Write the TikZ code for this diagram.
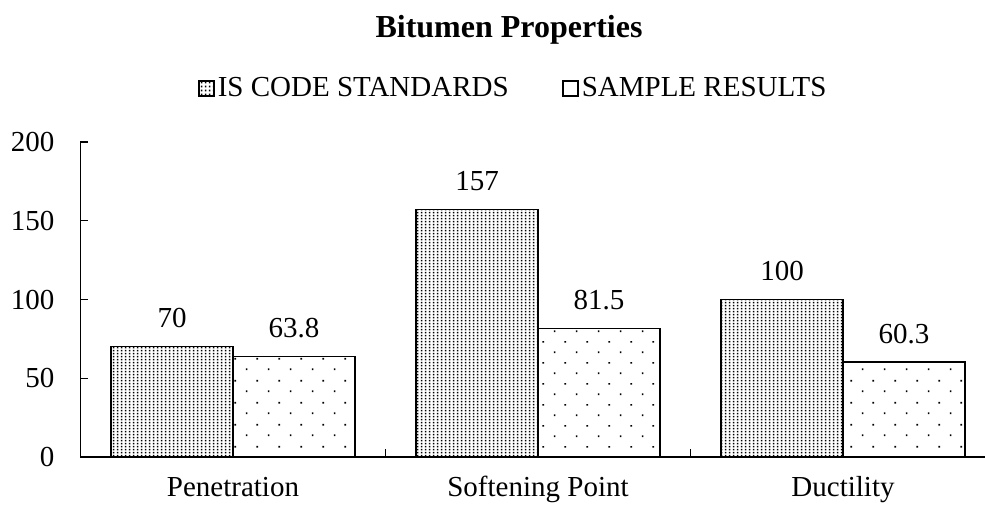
\documentclass[tikz,border=0pt]{standalone}
\usepackage{fontspec}
\setmainfont{Liberation Serif}
\usetikzlibrary{positioning,patterns.meta}
\definecolor{mInk}{HTML}{000000}

% dense and sparse dot fills for the two series
\tikzdeclarepattern{
  name=finedots,
  type=uncolored,
  bottom left={(0pt,0pt)},
  top right={(4pt,3.4pt)},
  tile size={(4pt,3.4pt)},
  code={\fill (1.1pt,0.75pt) rectangle (2.9pt,2.55pt);}
}
\tikzdeclarepattern{
  name=sparsedots,
  type=uncolored,
  bottom left={(0pt,0pt)},
  top right={(22pt,21.4pt)},
  tile size={(22pt,21.4pt)},
  code={\fill (4pt,4pt) rectangle (5.7pt,5.7pt);
        \fill (15pt,14.7pt) rectangle (16.7pt,16.4pt);}
}

\tikzset{
  bar/.style={draw=mInk, line width=1.3pt, pattern color=mInk},
  axis/.style={draw=mInk, line width=1.3pt},
  legbox/.style={draw=mInk, line width=1.2pt, minimum size=15pt, inner sep=0pt, pattern color=mInk},
}

\begin{document}
\begin{tikzpicture}[x=1pt, y=1pt, font=\fontsize{29}{34}\selectfont]
\def\ys{1.575}
\useasboundingbox[fill=white] (-80.5,-47) rectangle (904.5,457);
% title and legend
\node[font=\bfseries\fontsize{32}{38}\selectfont, anchor=base] (title) at (428.5,419) {Bitumen Properties};
\node[legbox, pattern=finedots] (legis) at (126,368.5) {};
\node[anchor=base west, inner sep=0pt] (legistxt) at ([xshift=3pt]legis.south east) {IS CODE STANDARDS};
\node[legbox] (legsm) at (490,368.5) {};
\node[anchor=base west, inner sep=0pt] (legsmtxt) at ([xshift=3pt]legsm.south east) {SAMPLE RESULTS};
% bars, values and categories
\foreach \i/\cat/\isv/\smv in {0/Penetration/70/63.8, 1/Softening Point/157/81.5, 2/Ductility/100/60.3}{
  \pgfmathsetmacro{\c}{152.5+305*\i}
  \draw[bar, pattern=finedots] ({\c-122},0) rectangle (\c,{\isv*\ys});
  \draw[bar, pattern=sparsedots] (\c,0) rectangle ({\c+122},{\smv*\ys});
  \node[anchor=base] (isval\i) at ({\c-61},{\isv*\ys+19}) {\isv};
  \node[anchor=base] (smval\i) at ({\c+61},{\smv*\ys+19}) {\smv};
  \node[anchor=base, inner sep=0pt] (cat\i) at (\c,-39.5) {\cat};
}
% axes and ticks
\draw[axis] (0,{200*\ys}) -- (0,0) -- (904.5,0);
\foreach \v in {50,100,150,200}{\draw[axis] (0,{\v*\ys}) -- ++(8,0);}
\foreach \v in {0,50,...,200}{\node[anchor=east] (ytick\v) at (-22.5,{\v*\ys}) {\v};}
\foreach \xb in {305,610}{\draw[axis] (\xb,0) -- ++(0,8);}
\end{tikzpicture}
\end{document}
